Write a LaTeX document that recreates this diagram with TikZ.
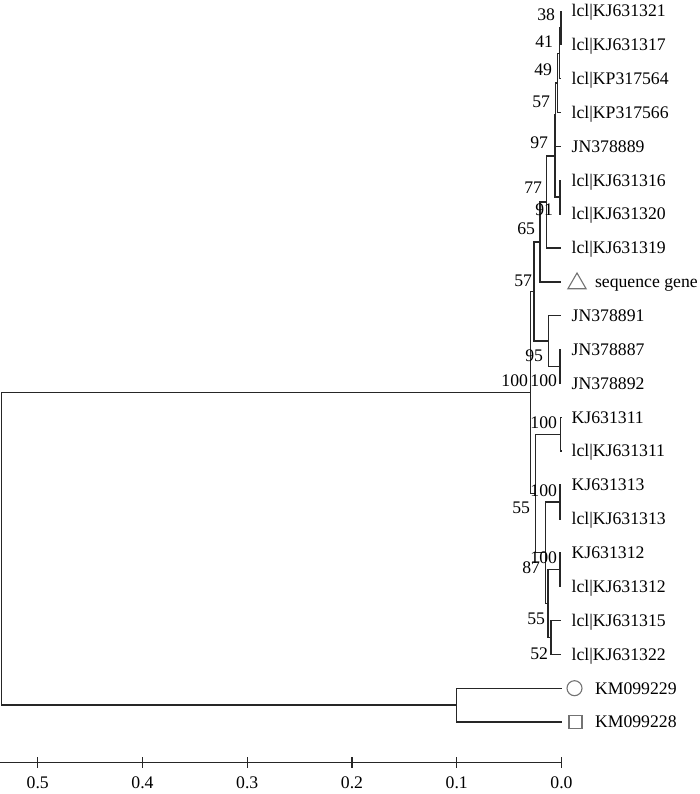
\documentclass[tikz,border=0pt]{standalone}
\usepackage{fontspec}
\setmainfont{Liberation Serif}
\usetikzlibrary{shapes.geometric}
\begin{document}
\begin{tikzpicture}[x=1pt,y=-1pt,
  every node/.style={font=\fontsize{17.7}{20}\selectfont, inner sep=0pt, outer sep=0pt},
  br/.style={line width=1.4pt, draw=black!85},
  leaflab/.style={anchor=base west},
  bs/.style={anchor=base east},
  ticklab/.style={anchor=base},
  sym/.style={draw=black!55, line width=1.1pt}]
\useasboundingbox (0,0) rectangle (700,794);
% leaf tips
\coordinate (L0) at (561,11.0);
\coordinate (L1) at (561,44.86);
\coordinate (L2) at (561,78.72);
\coordinate (L3) at (561,112.58);
\coordinate (L4) at (560.5,146.44);
\coordinate (L5) at (561,180.3);
\coordinate (L6) at (561,214.16);
\coordinate (L7) at (561,248.02);
\coordinate (L8) at (560.5,281.88);
\coordinate (L9) at (561,315.74);
\coordinate (L10) at (561,349.6);
\coordinate (L11) at (561,383.46);
\coordinate (L12) at (561,417.32);
\coordinate (L13) at (561,451.18);
\coordinate (L14) at (561,485.04);
\coordinate (L15) at (561,518.9);
\coordinate (L16) at (561,552.76);
\coordinate (L17) at (561,586.62);
\coordinate (L18) at (561,620.48);
\coordinate (L19) at (561,654.34);
\coordinate (L20) at (561.5,688.2);
\coordinate (L21) at (561.5,722.06);
% internal nodes
\coordinate (n1) at (561,27.93);
\coordinate (n2) at (559.5,53.3);
\coordinate (n3) at (557.5,82.9);
\coordinate (n4) at (555.5,114.7);
\coordinate (p91) at (560,197.2);
\coordinate (n6) at (555,156.0);
\coordinate (n77) at (546.7,202.0);
\coordinate (n65) at (540,241.9);
\coordinate (p100a) at (560,366.5);
\coordinate (n95) at (548.3,341.1);
\coordinate (n57) at (534,291.5);
\coordinate (p311) at (560.5,434.25);
\coordinate (p313) at (560,501.97);
\coordinate (p312) at (560,569.69);
\coordinate (nY) at (551,637.41);
\coordinate (nX) at (548,603.55);
\coordinate (n87) at (545.7,552.76);
\coordinate (n55) at (535.5,493.5);
\coordinate (nIn) at (530.7,392.5);
\coordinate (nOut) at (456.75,705.13);
\coordinate (root) at (1.5,548.8);
% branches
\foreach \p/\c in {n1/L0,n1/L1,n2/n1,n2/L2,n3/n2,n3/L3,n4/n3,n4/L4,
  p91/L5,p91/L6,n6/n4,n6/p91,n77/n6,n77/L7,n65/n77,n65/L8,
  p100a/L10,p100a/L11,n95/L9,n95/p100a,n57/n65,n57/n95,
  p311/L12,p311/L13,p313/L14,p313/L15,p312/L16,p312/L17,
  nY/L18,nY/L19,nX/p312,nX/nY,n87/p313,n87/nX,n55/p311,n55/n87,
  nIn/n57,nIn/n55,nOut/L20,nOut/L21,root/nIn,root/nOut}
  \draw[br] (\p) |- (\c);
% leaf labels
\node[leaflab] (t0) at (571.7,16.8) {lcl|KJ631321};
\node[leaflab] (t1) at (571.7,50.66) {lcl|KJ631317};
\node[leaflab] (t2) at (571.7,84.52) {lcl|KP317564};
\node[leaflab] (t3) at (571.7,118.38) {lcl|KP317566};
\node[leaflab] (t4) at (571.7,152.24) {JN378889};
\node[leaflab] (t5) at (571.7,186.1) {lcl|KJ631316};
\node[leaflab] (t6) at (571.7,219.96) {lcl|KJ631320};
\node[leaflab] (t7) at (571.7,253.82) {lcl|KJ631319};
\node[regular polygon, regular polygon sides=3, sym, minimum size=21pt] (s8) at (577,283.5) {};
\node[leaflab] (t8) at (595,287.68) {sequence gene};
\node[leaflab] (t9) at (571.7,321.54) {JN378891};
\node[leaflab] (t10) at (571.7,355.4) {JN378887};
\node[leaflab] (t11) at (571.7,389.26) {JN378892};
\node[leaflab] (t12) at (571.7,423.12) {KJ631311};
\node[leaflab] (t13) at (571.7,456.98) {lcl|KJ631311};
\node[leaflab] (t14) at (571.7,490.84) {KJ631313};
\node[leaflab] (t15) at (571.7,524.7) {lcl|KJ631313};
\node[leaflab] (t16) at (571.7,558.56) {KJ631312};
\node[leaflab] (t17) at (571.7,592.42) {lcl|KJ631312};
\node[leaflab] (t18) at (571.7,626.28) {lcl|KJ631315};
\node[leaflab] (t19) at (571.7,660.14) {lcl|KJ631322};
\node[circle, sym, minimum size=15pt] (s20) at (574.5,688.2) {};
\node[leaflab] (t20) at (595,694.0) {KM099229};
\node[rectangle, sym, minimum size=13pt] (s21) at (575.5,722.06) {};
\node[leaflab] (t21) at (595,727.86) {KM099228};
% bootstrap values
\node[bs] (b1) at (555,21) {38};
\node[bs] (b2) at (553,48) {41};
\node[bs] (b3) at (552,76) {49};
\node[bs] (b4) at (550,108) {57};
\node[bs] (b6) at (548,149) {97};
\node[bs] (b77) at (542,194) {77};
\node[bs] (b91) at (553,216) {91};
\node[bs] (b65) at (535,234) {65};
\node[bs] (b57) at (532,286) {57};
\node[bs] (b95) at (543,361) {95};
\node[bs] (bIn) at (528,386) {100};
\node[bs] (b100a) at (557,386) {100};
\node[bs] (b311) at (557,428) {100};
\node[bs] (b313) at (557,496) {100};
\node[bs] (b55) at (530,513) {55};
\node[bs] (b312) at (557,563) {100};
\node[bs] (b87) at (540,573) {87};
\node[bs] (bX) at (545,624) {55};
\node[bs] (bY) at (548,659) {52};
% scale axis
\coordinate (a0) at (0,762.7);
\coordinate (a1) at (561.5,762.7);
\draw[br] (a0) -- (a1);
\foreach \k/\v in {0/0.0,1/0.1,2/0.2,3/0.3,4/0.4,5/0.5}{
  \coordinate (tk\k) at ({561.5-104.75*\k},762.7);
  \draw[br] ([yshift=5.5pt]tk\k) -- ([yshift=-5.5pt]tk\k);
  \node[ticklab] (tl\k) at ({561.5-104.75*\k},788.5) {\v};
}
\end{tikzpicture}
\end{document}
